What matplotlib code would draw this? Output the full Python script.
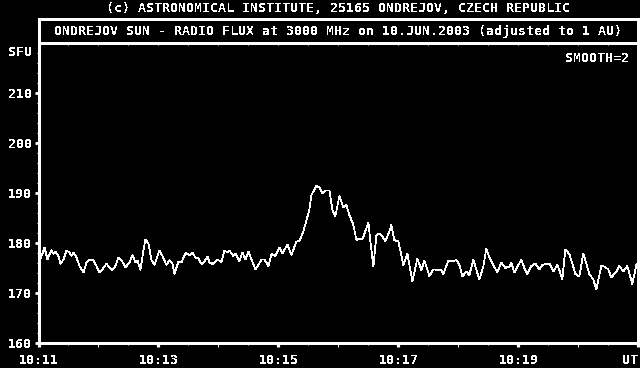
import matplotlib
matplotlib.use("Agg")
import matplotlib.pyplot as plt
import matplotlib.transforms as mtransforms
from matplotlib.ticker import FixedLocator, NullFormatter

plt.rcParams['text.antialiased'] = False
FONT = 'DejaVu Sans Mono'

# ---- data: seconds after 10:11:00 UT, flux in SFU ----
seconds = [0, 6, 9, 13, 15, 17, 20, 22, 25, 28, 31, 33, 35, 38, 41, 45, 48, 51, 55, 58,
           61, 65, 68, 71, 74, 77, 80, 83, 87, 91, 94, 97, 99, 102, 105, 107, 110, 113, 116, 121,
           124, 128, 131, 134, 136, 140, 143, 147, 151, 154, 157, 160, 163, 166, 169, 171, 174, 179, 183, 186,
           189, 191, 195, 197, 201, 204, 207, 210, 213, 217, 220, 223, 226, 230, 233, 237, 241, 244, 249, 253,
           258, 261, 265, 268, 271, 273, 278, 281, 284, 287, 291, 294, 297, 301, 305, 308, 311, 315, 318, 321,
           324, 330, 332, 335, 338, 341, 344, 347, 351, 353, 356, 360, 365, 369, 374, 379, 383, 386, 391, 395,
           403, 405, 410, 414, 418, 421, 424, 428, 431, 435, 437, 441, 445, 448, 451, 455, 459, 463, 467, 471,
           473, 476, 480, 483, 486, 489, 493, 497, 501, 504, 507, 511, 515, 519, 521, 524, 527, 531, 534, 537,
           541, 545, 548, 551, 555, 558, 563, 566, 570, 573, 578, 581, 585, 589, 594, 598, 600]
flux = [175.6, 179.1, 176.7, 178.6, 177.8, 178.3, 177.3, 175.8, 176.7, 178.5, 178.1, 177.4, 178.1, 177.1, 175.4, 174.1, 176.1, 176.7, 176.5, 175.4,
        174.1, 175.0, 175.9, 175.0, 174.6, 175.4, 177.1, 176.6, 175.1, 176.1, 177.6, 176.1, 176.5, 174.6, 178.6, 180.7, 179.9, 176.6, 175.6, 178.5,
        177.4, 175.6, 176.6, 175.9, 173.8, 176.3, 176.1, 178.0, 177.6, 178.1, 177.1, 176.9, 175.8, 176.3, 177.3, 176.1, 175.8, 176.7, 176.2, 178.5,
        178.1, 178.5, 177.4, 177.9, 176.3, 178.1, 176.7, 178.3, 176.7, 174.7, 175.6, 176.7, 176.7, 175.4, 177.8, 177.4, 179.1, 177.9, 179.7, 177.6,
        180.3, 180.4, 182.4, 184.5, 186.7, 189.6, 191.4, 191.1, 189.9, 190.5, 190.5, 186.6, 185.4, 189.4, 187.1, 187.6, 185.6, 183.6, 180.6, 180.9,
        180.7, 184.1, 180.3, 175.3, 181.6, 181.9, 181.3, 180.3, 182.3, 183.6, 180.6, 180.3, 175.6, 177.9, 172.3, 176.9, 174.6, 176.5, 173.4, 174.7,
        174.6, 173.8, 176.5, 176.3, 176.6, 175.6, 173.3, 174.3, 173.6, 176.7, 175.3, 172.7, 175.3, 178.9, 177.1, 175.6, 174.1, 176.1, 175.0, 175.3,
        176.1, 174.1, 175.6, 176.7, 175.0, 173.8, 175.4, 175.9, 174.7, 175.6, 175.8, 175.9, 174.3, 175.6, 174.6, 172.7, 178.7, 177.8, 175.9, 173.8,
        173.3, 177.9, 175.9, 173.8, 172.7, 170.7, 175.4, 175.3, 174.7, 173.1, 174.3, 175.4, 174.3, 175.4, 171.8, 175.6, 175.9]

y_ticks = [160, 170, 180, 190, 200, 210]
x_tick_seconds = [0, 120, 240, 360, 480, 600]
x_tick_labels = ["10:11", "10:13", "10:15", "10:17", "10:19", "UT"]
minute_ticks = [60, 180, 300, 420, 540]
half_minute_ticks = [30, 90, 150, 210, 270, 330, 390, 450, 510, 570]
top_ticks = list(range(30, 600, 30))

title_top = "(c) ASTRONOMICAL INSTITUTE, 25165 ONDREJOV, CZECH REPUBLIC"
title_box = "ONDREJOV SUN - RADIO FLUX at 3000 MHz on 10.JUN.2003 (adjusted to 1 AU)"
smooth_text = "SMOOTH=2"
unit_text = "SFU"

W, H = 640, 368
fig = plt.figure(figsize=(W / 100, H / 100), dpi=100, facecolor='black')

L, R, B, T = 38.5, 638.3, 343.0, 43.0
ax = fig.add_axes([L / W, (H - B) / H, (R - L) / W, (B - T) / H])
ax.set_facecolor('black')
ax.plot(seconds, flux, color='white', lw=0.55, antialiased=False)
ax.set_xlim(0, 600)
ax.set_ylim(160, 220)
for sp in ax.spines.values():
    sp.set_color('white')
    sp.set_linewidth(0.8)
    sp.set_antialiased(False)

fs = 9.5
ax.yaxis.set_major_locator(FixedLocator(y_ticks))
ax.yaxis.set_minor_locator(FixedLocator(list(range(162, 220, 2))))
ax.tick_params(axis='y', which='major', direction='out', length=2.6, width=2.0,
               colors='white', labelsize=fs, pad=2.2, right=False)
ax.tick_params(axis='y', which='minor', direction='out', length=1.6, width=0.75,
               colors='white', right=False)
ax.set_xticks(x_tick_seconds)
ax.set_xticklabels(x_tick_labels)
ax.xaxis.set_minor_locator(FixedLocator(minute_ticks))
ax.tick_params(axis='x', which='major', direction='out', length=3.0, width=2.3,
               colors='white', labelsize=fs, pad=5.0, top=False)
ax.tick_params(axis='x', which='minor', direction='out', length=3.0, width=0.75,
               colors='white', top=False)
for lab in ax.get_xticklabels() + ax.get_yticklabels():
    lab.set_fontfamily(FONT)
    lab.set_fontweight('bold')
ax.get_xticklabels()[-1].set_horizontalalignment('right')

sec = ax.secondary_xaxis('bottom')
sec.set_xticks(half_minute_ticks)
sec.xaxis.set_major_formatter(NullFormatter())
sec.tick_params(axis='x', direction='out', length=1.6, width=0.75, colors='white')
sec.spines['bottom'].set_visible(False)

sec2 = ax.secondary_xaxis('top')
sec2.set_xticks(top_ticks)
sec2.xaxis.set_major_formatter(NullFormatter())
sec2.tick_params(axis='x', direction='in', length=1.3, width=0.75, colors='white')
sec2.spines['top'].set_visible(False)

trans = mtransforms.offset_copy(ax.get_yaxis_transform(), fig=fig, x=-6.5, y=0, units='dots')
ax.text(0, 218.2, unit_text, transform=trans, ha='right', va='center', color='white',
        fontsize=fs, fontfamily=FONT, fontweight='bold')

# title box
TB = 19.3
tax = fig.add_axes([L / W, (H - T) / H, (R - L) / W, (T - TB) / H])
tax.set_facecolor('black')
tax.set_xticks([])
tax.set_yticks([])
for sp in tax.spines.values():
    sp.set_color('white')
    sp.set_linewidth(0.8)
    sp.set_antialiased(False)
tax.text(0.5, 0.47, title_box, transform=tax.transAxes, ha='center', va='center',
         color='white', fontsize=fs, fontfamily=FONT, fontweight='bold')

fig.text(338 / W, 1 - 9.0 / H, title_top, ha='center', va='center', color='white',
         fontsize=fs, fontfamily=FONT, fontweight='bold')
fig.text(629 / W, 1 - 58.5 / H, smooth_text, ha='right', va='center', color='white',
         fontsize=fs, fontfamily=FONT, fontweight='bold')

fig.savefig('out.png', dpi=100, facecolor='black')
